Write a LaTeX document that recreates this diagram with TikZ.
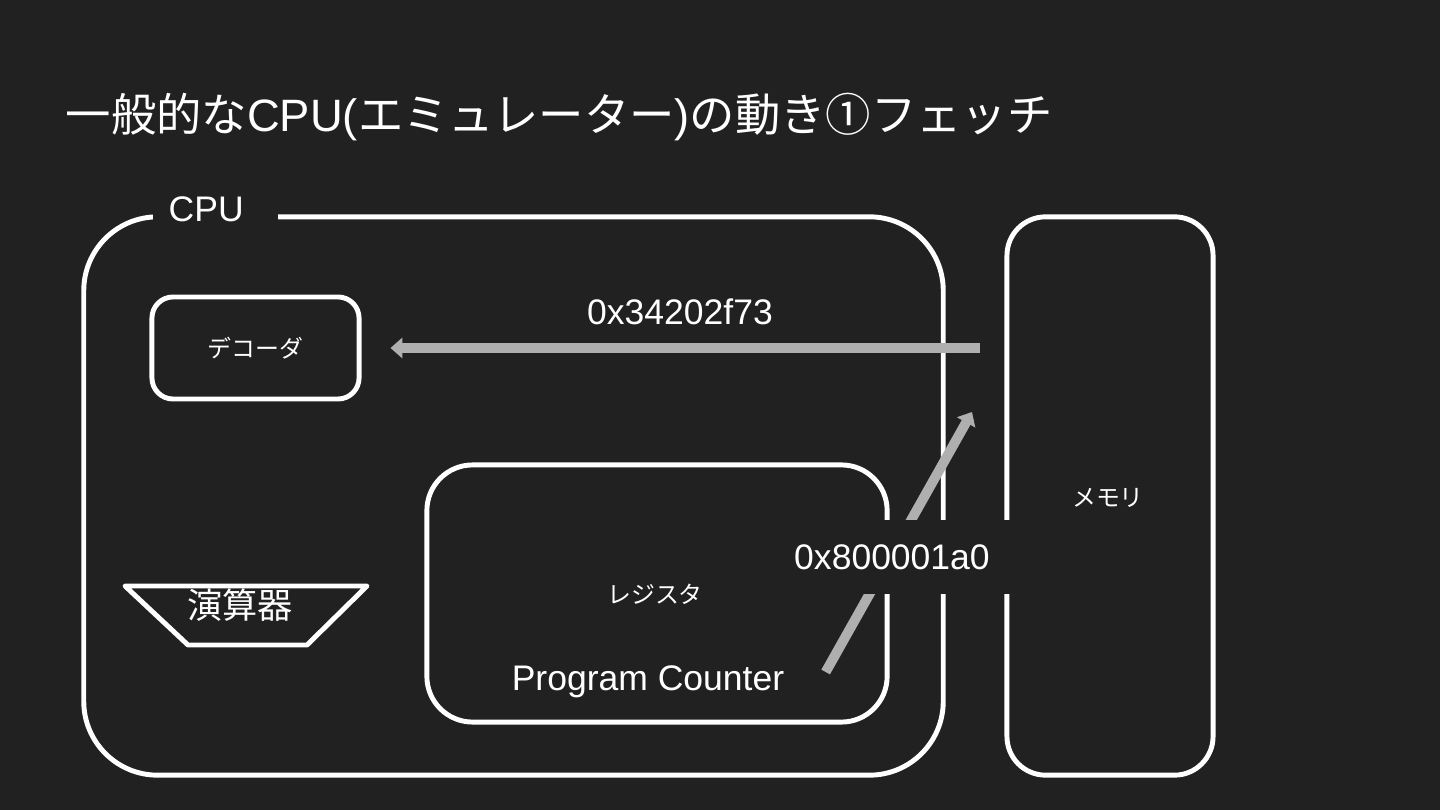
\documentclass[tikz,border=0pt]{standalone}
\usepackage{fontspec}
\setmainfont{Liberation Sans}
\newfontfamily\jp{Noto Sans CJK JP}
\usetikzlibrary{arrows.meta,calc}
\definecolor{slidebg}{HTML}{212121}
\definecolor{busgray}{HTML}{AFAFAF}
\tikzset{
  unit/.style={draw=white, line width=1.4pt},
  lbl/.style={text=white, font=\fontsize{10.1pt}{12pt}\selectfont},
  jplbl/.style={text=white, font=\jp\fontsize{6.8pt}{8pt}\selectfont},
  bus/.style={draw=busgray, line width=2.8pt, -{Triangle[width=5.8pt,length=3.4pt]}},
}
\begin{document}
\begin{tikzpicture}[x=0.01cm,y=-0.01cm]
  \fill[slidebg] (0,0) rectangle (1440,810);
  \useasboundingbox (0,0) rectangle (1440,810);
  \node[anchor=base west, text=white, font=\jp\fontsize{12.9pt}{15pt}\selectfont, inner sep=0] (title) at (65,132)
    {一般的な{\rmfamily CPU(}エミュレーター{\rmfamily )}の動き①フェッチ};

  % CPU outline, its name sits in a gap of the top edge
  \node[unit, rounded corners=21pt, minimum width=8.59cm, minimum height=5.58cm] (cpu) at (513.5,496) {};
  \node[lbl, fill=slidebg, anchor=west, inner xsep=0.16cm, text width=0.93cm] (cpuname) at (152,209) {CPU};

  \node[unit, jplbl, rounded corners=6pt, minimum width=2.07cm, minimum height=1.02cm] (dec) at (255.5,348) {デコーダ};
  \draw[unit, line join=round] (125,586) -- (367,586) -- (307,645) -- (188,645) -- cycle;
  \node[text=white, font=\jp\fontsize{10pt}{12pt}\selectfont] (alu) at (240,605) {演算器};

  \node[unit, rounded corners=13pt, minimum width=4.6cm, minimum height=2.57cm] (reg) at (657,593.5) {};
  \node[jplbl] (regname) at (655,594) {レジスタ};
  \node[lbl] (pc) at (648,682) {Program Counter};

  \node[unit, rounded corners=11pt, minimum width=2.06cm, minimum height=5.58cm] (mem) at (1110,496) {};
  \node[jplbl] (memname) at (1108,498) {メモリ};

  % fetch: instruction word back to the decoder, address out to memory
  \node[lbl] (insn) at (680,312) {0x34202f73};
  \draw[bus] ($(mem.west |- dec)+(-24.5,0)$) -- ($(dec.east)+(29,0)$);
  \draw[bus] ($(pc.east)+(29,-10)$) -- ($(mem.west)+(-32.5,-84)$);
  \node[lbl, fill=slidebg, inner xsep=0.23cm, inner ysep=0.24cm] (addr) at (892,557) {0x800001a0};
\end{tikzpicture}
\end{document}
